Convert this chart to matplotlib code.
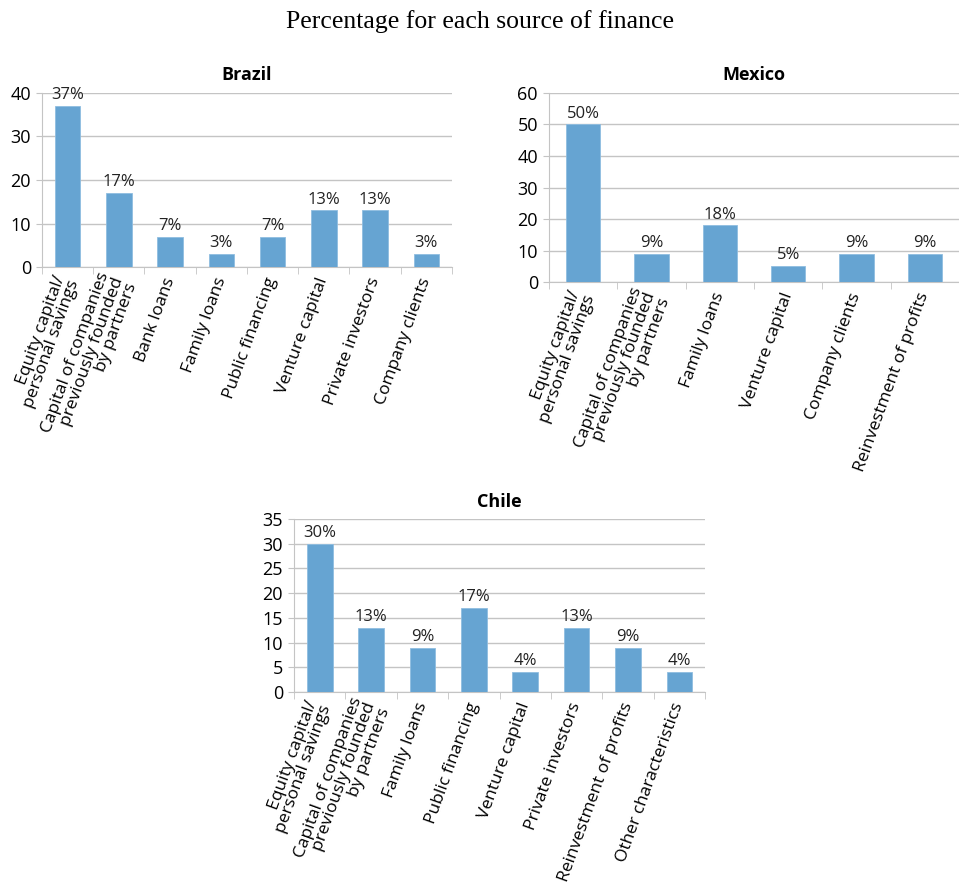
import numpy as np
import matplotlib.pyplot as plt
from matplotlib.ticker import FixedLocator, MultipleLocator

# Survey shares (percent) for each source of finance
brazil_labels = ["Equity capital/\npersonal savings",
                 "Capital of companies\npreviously founded\nby partners",
                 "Bank loans", "Family loans", "Public financing",
                 "Venture capital", "Private investors", "Company clients"]
brazil_values = [37, 17, 7, 3, 7, 13, 13, 3]

mexico_labels = ["Equity capital/\npersonal savings",
                 "Capital of companies\npreviously founded\nby partners",
                 "Family loans", "Venture capital", "Company clients",
                 "Reinvestment of profits"]
mexico_values = [50, 9, 18, 5, 9, 9]

chile_labels = ["Equity capital/\npersonal savings",
                "Capital of companies\npreviously founded\nby partners",
                "Family loans", "Public financing", "Venture capital",
                "Private investors", "Reinvestment of profits",
                "Other characteristics"]
chile_values = [30, 13, 9, 17, 4, 13, 9, 4]

BAR = "#66a4d2"
GRID = "#c4c4c4"
SANS = ["Open Sans", "DejaVu Sans"]

plt.rcParams["font.family"] = SANS

fig = plt.figure(figsize=(9.59, 8.83), dpi=100)
fig.text(0.5, 0.976, "Percentage for each source of finance",
         ha="center", va="center", fontsize=18.5, family="Liberation Serif")


def country_chart(rect, title, labels, values, ymax, ystep):
    ax = fig.add_axes(rect)
    x = np.arange(len(values))
    ax.bar(x, values, width=0.5, color=BAR, edgecolor="#8fbde0",
           linewidth=0.6, zorder=3)
    for xi, v in zip(x, values):
        ax.annotate(f"{v}%", (xi, v), xytext=(0, 2), textcoords="offset points",
                    ha="center", va="bottom", fontsize=12, color="#222222")

    ax.set_xlim(-0.5, len(values) - 0.5)
    ax.set_ylim(0, ymax)
    ax.yaxis.set_major_locator(MultipleLocator(ystep))
    ax.grid(axis="y", color=GRID, linewidth=1, zorder=0)

    ax.set_xticks(x)
    ax.set_xticklabels(labels, rotation=70, ha="right", va="center",
                       rotation_mode="anchor", fontsize=12.5, linespacing=0.9)
    ax.xaxis.set_minor_locator(FixedLocator(np.arange(len(values) + 1) - 0.5))
    ax.tick_params(axis="x", which="major", length=0, pad=8)
    ax.tick_params(axis="x", which="minor", length=5, color=GRID)
    ax.tick_params(axis="y", length=4, color=GRID, labelsize=13, pad=4)

    for side in ["top", "right"]:
        ax.spines[side].set_visible(False)
    for side in ["left", "bottom"]:
        ax.spines[side].set_color(GRID)

    ax.set_title(title, fontsize=13, fontweight="bold", pad=9)
    return ax


country_chart([0.0438, 0.6976, 0.4275, 0.1971], "Brazil",
              brazil_labels, brazil_values, 40, 10)
country_chart([0.5725, 0.6806, 0.4275, 0.2141], "Mexico",
              mexico_labels, mexico_values, 60, 10)
country_chart([0.3066, 0.2163, 0.4286, 0.1959], "Chile",
              chile_labels, chile_values, 35, 5)

fig.savefig("out.png", dpi=100)
